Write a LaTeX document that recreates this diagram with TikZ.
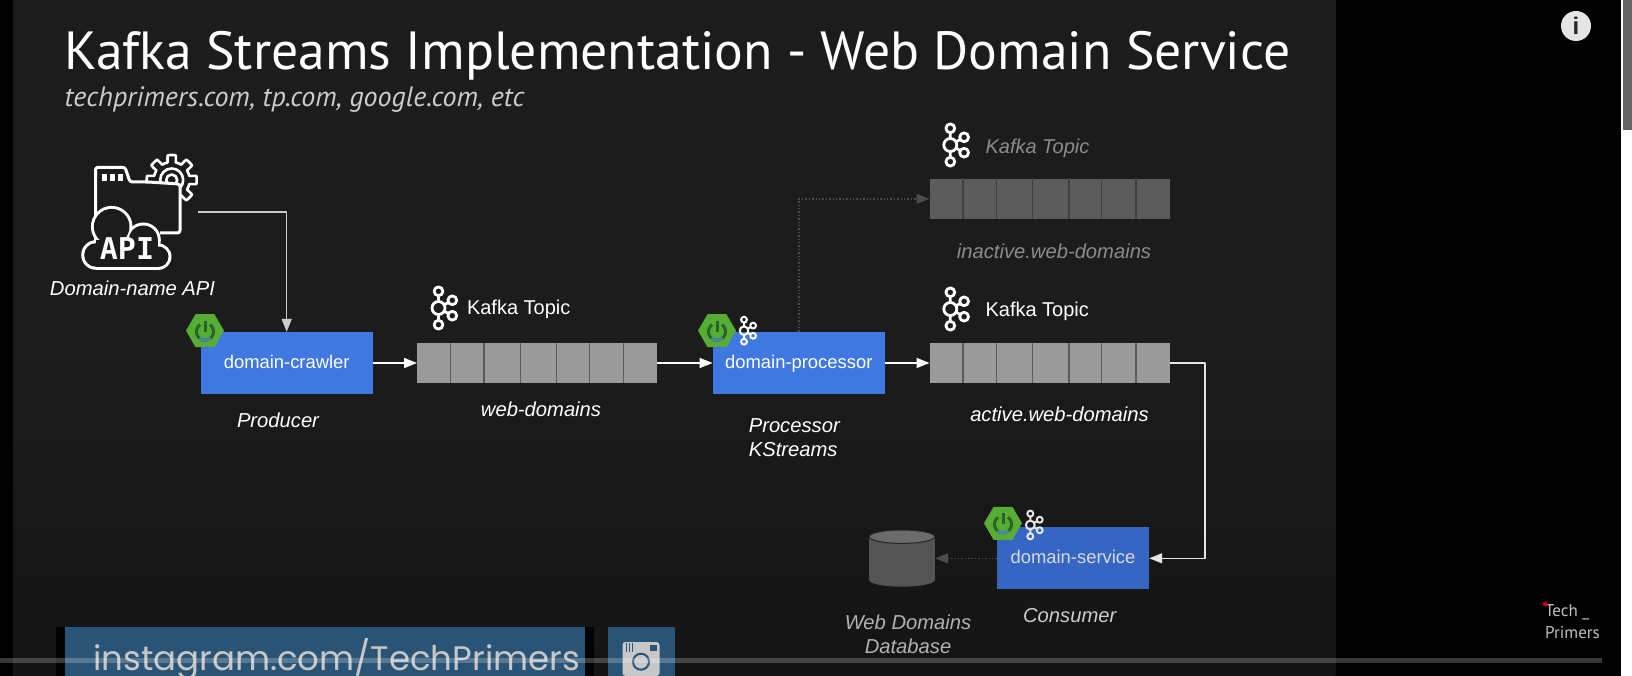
\documentclass[tikz,border=0pt]{standalone}
\usepackage{fontspec}
\setmainfont{Liberation Sans}
\newfontfamily\slidefont{PT Sans}
\newfontfamily\bannerfont{Poppins}
\newfontfamily\iconfont{DejaVu Sans Mono}
\usetikzlibrary{arrows.meta,shapes.geometric}
\definecolor{slidebg}{HTML}{1C1C1D}
\definecolor{slidelow}{HTML}{141415}
\definecolor{boxblue}{HTML}{3F78E0}
\definecolor{boxdim}{HTML}{3566C4}
\definecolor{springgreen}{HTML}{57AD34}
\definecolor{springdark}{HTML}{2A6428}
\definecolor{cellgray}{HTML}{9A9A9A}
\definecolor{celldim}{HTML}{5C5C5C}
\definecolor{bannerblue}{HTML}{2A5476}
\tikzset{
  svcbox/.style={fill=boxblue, text=white, minimum width=172, minimum height=62, inner sep=0pt, text height=13.5, text depth=3.5, font=\fontsize{18.4}{20}\selectfont},
  queuebox/.style={fill=cellgray, minimum width=240, minimum height=40.5, inner sep=0pt},
  springhex/.style={regular polygon, regular polygon sides=6, fill=springgreen, minimum size=38, inner sep=0pt},
  lbl/.style={text=white, font=\fontsize{20.2}{24}\selectfont\itshape, align=center},
  topiclbl/.style={text=white, anchor=west, font=\fontsize{20}{24}\selectfont},
  flow/.style={draw=white, line width=1.5pt, -{Triangle[length=13pt, width=10pt]}},
  faded/.style={draw=black!70!white, line width=1.4pt, dotted, -{Triangle[length=13pt, width=10pt, fill=black!70!white]}},
  kafkaicon/.pic={
    \draw[pic actions, fill=none] (0,0) circle (6.5) (0,-16.7) circle (4.4) (0,16.7) circle (4.4)
      (13.8,-7.7) circle (4.4) (13.8,7.7) circle (4.4);
    \draw[pic actions] (0,-12) -- (0,-6) (0,6) -- (0,12) (5.2,-3) -- (9.8,-5.4) (5.2,3) -- (9.8,5.4);
  },
  powericon/.pic={
    \draw[springdark, line width=3pt] plot[domain=-55:235, samples=30] ({8.5*cos(\x)},{1+8.5*sin(\x)});
    \draw[springdark, line width=3pt] (0,-10) -- (0,1);
    \draw[boxblue!70!springgreen, line width=3pt] plot[domain=50:130, samples=10] ({8.5*cos(\x)},{1+8.5*sin(\x)});
  }
}
\newcommand{\cellrules}[2]{%
  \foreach \cellx in {33.4,67.1,103.3,139.5,172.2,206.6}
    \draw[#2, line width=1.3pt] ([xshift=\cellx pt]#1.north west) -- ([xshift=\cellx pt]#1.south west);
}
\begin{document}
\begin{tikzpicture}[x=1pt, y=-1pt, line join=round, line cap=butt, >=stealth]
  % ========================================================
  % 0. PAGE, SLIDE PANEL
  % ========================================================
  \useasboundingbox (0,0) rectangle (1632,676);
  \fill[black] (0,0) rectangle (1632,676);
  \fill[white] (1621,0) rectangle (1632,676);
  \fill[black!60!white] (1623,0) rectangle (1632,130);
  \shade[top color=slidebg, bottom color=slidelow, middle color=slidebg] (13,0) rectangle (1335.5,676);

  % ========================================================
  % 1. TITLE
  % ========================================================
  \node[anchor=base west, text=white, inner sep=0pt, font=\slidefont\fontsize{53.7}{56}\selectfont] (title) at (64.5,70) {Kafka Streams Implementation - Web Domain Service};
  \node[anchor=base west, text=black!20!white, inner sep=0pt, font=\slidefont\fontsize{28}{30}\selectfont\itshape] (subtitle) at (64.5,106.5) {techprimers.com, tp.com, google.com, etc};

  % ========================================================
  % 2. SERVICES, QUEUES, DATABASE
  % ========================================================
  \node[svcbox] (crawler) at (286.7,363) {domain-crawler};
  \node[svcbox] (processor) at (798.8,363) {domain-processor};
  \node[svcbox, fill=boxdim, text=black!15!white, minimum width=152] (service) at (1073,558.3) {domain-service};

  \node[queuebox] (webq) at (537.2,363) {};
  \node[queuebox] (activeq) at (1049.7,363) {};
  \node[queuebox, fill=celldim] (inactiveq) at (1049.7,198.9) {};
  \cellrules{webq}{black!65}
  \cellrules{activeq}{black!65}
  \cellrules{inactiveq}{black!75}

  % database drum
  \node[minimum width=66, minimum height=57, inner sep=0pt] (webdb) at (902,558.3) {};
  \fill[black!67!white] (902,580) ellipse (32.8 and 6.7);
  \fill[black!67!white] (869.2,536.7) rectangle (934.8,580);
  \draw[black!85, fill=black!58!white, line width=1pt] (902,536.7) ellipse (32.8 and 6.7);

  % ========================================================
  % 3. API ICON
  % ========================================================
  \coordinate (apiout) at (198,212);
  % gear
  \draw[white, line width=2.6pt] plot[domain=0:360, samples=193] ({171.7+(21.5+3.5*max(min(5*cos(8*\x),1),-1))*cos(\x)},{180+(21.5+3.5*max(min(5*cos(8*\x),1),-1))*sin(\x)}) -- cycle;
  \draw[white, line width=2.6pt] (171.7,180) circle (11.5) (171.7,180) circle (5.5);
  % folder
  \draw[white, line width=3pt, fill=slidebg, rounded corners=2.5pt] (95.5,245) -- (95.5,167.3) -- (125,167.3) -- (130,182) -- (148,182) -- (180,184) -- (180,233) -- (160,233);
  \foreach \tabx in {102,110,118}
    \fill[white] (\tabx,174) rectangle ++(4.5,7);
  % cloud
  \foreach \cloudx/\cloudy/\cloudr in {96/255/13.3, 111.7/226.7/19.3, 143.3/240/16, 158.3/256.7/11.7}
    \fill[white] (\cloudx,\cloudy) circle (\cloudr+1.5);
  \fill[white] (96,240) rectangle (158.3,269.8);
  \foreach \cloudx/\cloudy/\cloudr in {96/255/13.3, 111.7/226.7/19.3, 143.3/240/16, 158.3/256.7/11.7}
    \fill[slidebg] (\cloudx,\cloudy) circle (\cloudr-1.5);
  \fill[slidebg] (96,240) rectangle (158.3,266.8);
  \node[text=white, inner sep=0pt, font=\iconfont\bfseries\fontsize{30}{30}\selectfont] (apitext) at (127,249) {API};

  % ========================================================
  % 4. SPRING AND KAFKA BADGES
  % ========================================================
  \node[springhex] (springcrawler) at (205,330.7) {};
  \node[springhex] (springprocessor) at (717,330.7) {};
  \node[springhex] (springservice) at (1003,523.3) {};
  \pic at (springcrawler) {powericon};
  \pic at (springprocessor) {powericon};
  \pic at (springservice) {powericon};

  \pic[white, line width=2.8pt] at (438.5,308) {kafkaicon};
  \pic[white, line width=2.8pt] at (950.3,145) {kafkaicon};
  \pic[white, line width=2.8pt] at (950.3,309) {kafkaicon};
  \pic[white, scale=0.66, line width=2pt] at (744,330.7) {kafkaicon};
  \pic[black!10!white, scale=0.68, line width=2pt] at (1030.3,525) {kafkaicon};

  % ========================================================
  % 5. CONNECTORS
  % ========================================================
  \draw[flow, draw=black!20!white] (apiout) -| (crawler.north);
  \draw[flow] (crawler) -- (webq);
  \draw[flow] (webq) -- (processor);
  \draw[flow] (processor) -- (activeq);
  \draw[flow, draw=black!10!white] (activeq.east) -- (1205,363) |- (service.east);
  \draw[faded] (processor.north) |- (inactiveq.west);
  \draw[faded] (service.west) -- (webdb.east);

  % ========================================================
  % 6. LABELS
  % ========================================================
  \node[lbl] (apilabel) at (132.5,288) {Domain-name API};
  \node[lbl] (crawlerlabel) at (278,420.5) {Producer};
  \node[lbl] (weblabel) at (541,409) {web-domains};
  \node[lbl, align=left, anchor=north west, inner sep=0pt] (processorlabel) at (748.6,418.7) {Processor\\KStreams};
  \node[lbl] (activelabel) at (1059.5,414) {active.web-domains};
  \node[lbl, text=black!45!white] (inactivelabel) at (1054,251) {inactive.web-domains};
  \node[lbl, text=black!20!white] (servicelabel) at (1069.7,616) {Consumer};
  \node[lbl, text=black!30!white] (dblabel) at (908,634.5) {Web Domains\\Database};

  \node[topiclbl] (webtopic) at (463.5,309) {Kafka Topic};
  \node[topiclbl] (activetopic) at (982,311) {Kafka Topic};
  \node[topiclbl, text=black!45!white, font=\fontsize{20}{24}\selectfont\itshape] (inactivetopic) at (982,148.7) {Kafka Topic};

  % ========================================================
  % 7. BANNER, PLAYER OVERLAY
  % ========================================================
  \fill[black!90!slidebg] (56,627.3) rectangle (594,676);
  \fill[bannerblue] (64.5,627.3) rectangle (584.5,676);
  \node[anchor=base west, text=black!22!white, inner sep=0pt, font=\bannerfont\fontsize{34}{40}\selectfont] (banner) at (93,670) {instagram.com/TechPrimers};
  \fill[bannerblue] (607.5,627.3) rectangle (674.5,676);
  \fill[black!22!white, rounded corners=3pt] (622.5,642) rectangle (659.5,676);
  \draw[bannerblue, line width=2pt] (641,661.7) circle (8);
  \foreach \stripex in {626,629,632}
    \draw[bannerblue, line width=1pt] (\stripex,643) -- (\stripex,652);
  \fill[bannerblue] (650,645) rectangle (657,651);

  \node[circle, fill=black!10!white, text=black!85, minimum size=30, inner sep=0pt, font=\bfseries\fontsize{24}{24}\selectfont] (infobtn) at (1576,26) {i};
  \node[anchor=west, align=left, inner sep=0pt, text=black!25!white, font=\slidefont\fontsize{17}{22}\selectfont] (logo) at (1545,622) {Tech \_\\Primers};
  \fill[red!75!black] (1545,604) circle (2.5);

  \fill[white, opacity=0.22] (0,658) rectangle (1602,663);
\end{tikzpicture}
\end{document}
